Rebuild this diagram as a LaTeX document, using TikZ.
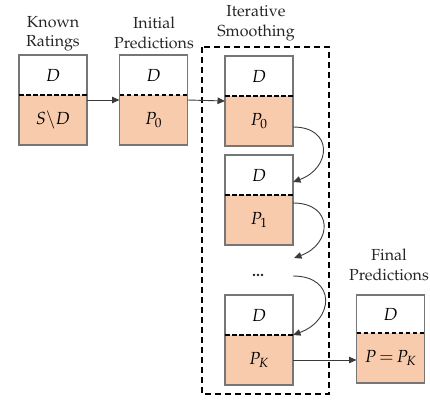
\documentclass[tikz,border=0pt]{standalone}
\usepackage[T1]{fontenc}
\usepackage{mathpazo}
\usetikzlibrary{positioning,arrows.meta}

\definecolor{peach}{HTML}{F8CBAD}
\definecolor{boxgray}{HTML}{767676}
\definecolor{linkgray}{HTML}{3A3A3A}

\begin{document}
\begin{tikzpicture}[x=1pt, y=-1pt, >={Triangle[length=7.5pt, width=6.5pt]},
  dpart/.style={minimum width=68pt, minimum height=40pt, inner sep=0pt,
    outer sep=0pt, anchor=north, font=\fontsize{17.5}{21}\selectfont},
  ppart/.style={dpart, minimum height=50pt, fill=peach},
  boxframe/.style={draw=boxgray, line width=1.1pt},
  divider/.style={line width=1.1pt, dash pattern=on 4.5pt off 2.5pt},
  heading/.style={align=center, font=\fontsize{16}{19.5}\selectfont, text=black!85},
  flow/.style={->, draw=linkgray, line width=0.9pt}]

  \useasboundingbox (0,0) rectangle (430,403);

  % headings
  \node[heading] (kr-title) at (53,  33.5) {Known\\Ratings};
  \node[heading] (ip-title) at (154, 33  ) {Initial\\Predictions};
  \node[heading] (is-title) at (256, 23  ) {Iterative\\Smoothing};
  \node[heading] (fp-title) at (389, 265 ) {Final\\Predictions};

  % known ratings
  \node[dpart] (kr-d) at (53, 55) {$D$};
  \node[ppart, below=0pt of kr-d] (kr-p) {$S\backslash D$};

  % initial predictions
  \node[dpart] (ip-d) at (153.5, 55) {$D$};
  \node[ppart, below=0pt of ip-d] (ip-p) {$P_0$};

  % smoothing steps
  \node[dpart] (s0-d) at (259, 56) {$D$};
  \node[ppart, below=0pt of s0-d] (s0-p) {$P_0$};

  \node[dpart] (s1-d) at (259, 155) {$D$};
  \node[ppart, below=0pt of s1-d] (s1-p) {$P_1$};

  \node[heading] (dots) at (258, 275) {\textbf{...}};

  \node[dpart] (sK-d) at (259, 295) {$D$};
  \node[ppart, below=0pt of sK-d] (sK-p) {$P_K$};

  % final predictions
  \node[dpart, minimum height=38pt] (fp-d) at (390.5, 295) {$D$};
  \node[ppart, below=0pt of fp-d] (fp-p) {$P\,{=}\,P_K$};

  % outlines + dashed splits
  \draw[boxframe] (kr-d.north west) rectangle (kr-p.south east);
  \draw[boxframe] (ip-d.north west) rectangle (ip-p.south east);
  \draw[boxframe] (s0-d.north west) rectangle (s0-p.south east);
  \draw[boxframe] (s1-d.north west) rectangle (s1-p.south east);
  \draw[boxframe] (sK-d.north west) rectangle (sK-p.south east);
  \draw[boxframe] (fp-d.north west) rectangle (fp-p.south east);

  \draw[divider] (kr-d.south west) -- (kr-d.south east);
  \draw[divider] (ip-d.south west) -- (ip-d.south east);
  \draw[divider] (s0-d.south west) -- (s0-d.south east);
  \draw[divider] (s1-d.south west) -- (s1-d.south east);
  \draw[divider] (sK-d.south west) -- (sK-d.south east);
  \draw[divider] (fp-d.south west) -- (fp-d.south east);

  % smoothing frame
  \coordinate (is-nw) at (202, 47);
  \coordinate (is-se) at (329, 394);
  \draw[line width=2pt, dash pattern=on 6pt off 4pt] (is-nw) rectangle (is-se);

  % straight links
  \draw[flow] ([yshift=-5pt]kr-p.north east) -- ([yshift=-5pt]ip-p.north west);
  \draw[flow] ([yshift=-5pt]ip-p.north east) -- ([yshift=-5pt]s0-p.north west);
  \draw[flow] (sK-p.east) -- (sK-p.east -| fp-p.west);

  % smoothing loops
  \coordinate (dots-in)  at (294, 258);
  \coordinate (dots-out) at (293, 276);
  \draw[flow] ([yshift=-6pt]s0-p.east) to[out=0, in=20, looseness=1.9] ([yshift=-7pt]s1-d.east);
  \draw[flow] ([yshift=-8pt]s1-p.north east) to[out=0, in=20, looseness=1.9] (dots-in);
  \draw[flow] (dots-out) to[out=0, in=20, looseness=1.9] (sK-d.south east);

\end{tikzpicture}
\end{document}
